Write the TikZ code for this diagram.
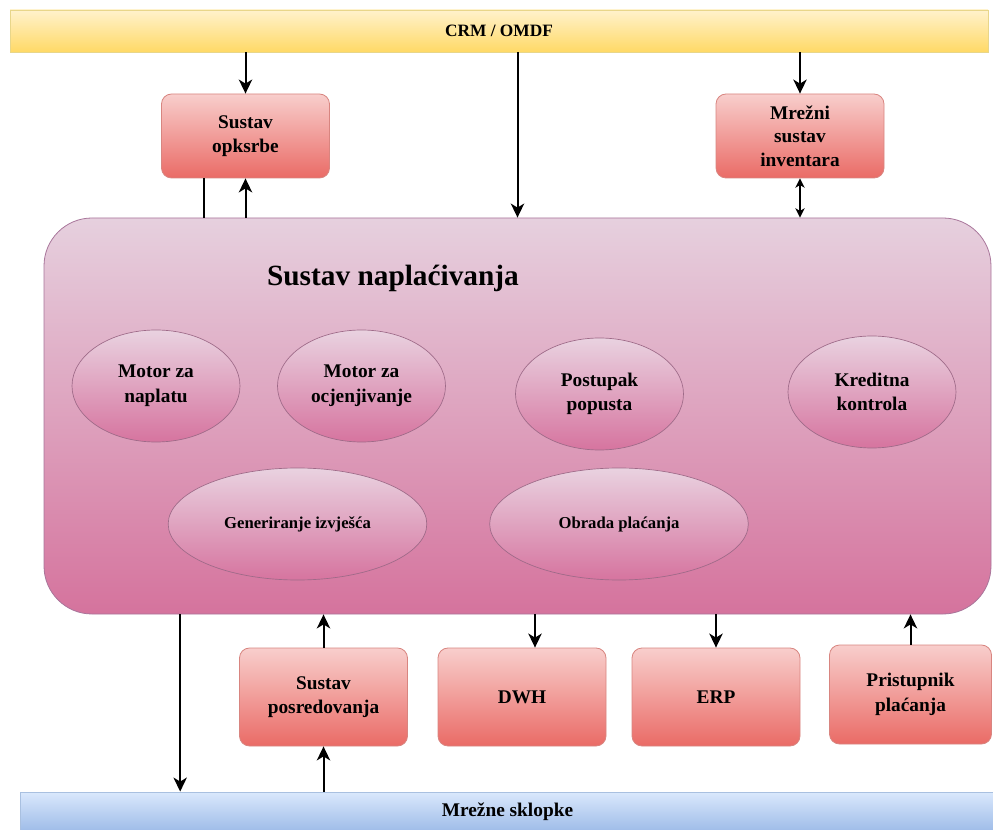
\documentclass[tikz,border=0pt]{standalone}
\usepackage{fontspec}
\setmainfont{Liberation Serif}
\usetikzlibrary{arrows.meta,shapes.geometric}
\definecolor{redtop}{HTML}{F8CECC}
\definecolor{redbot}{HTML}{EA6B66}
\definecolor{redline}{HTML}{D88580}
\definecolor{pinktop}{HTML}{E6D0DE}
\definecolor{pinkbot}{HTML}{D5739D}
\definecolor{pinkline}{HTML}{A8759A}
\definecolor{elltop}{HTML}{E9D2E0}
\definecolor{ellbot}{HTML}{D6749F}
\definecolor{elline}{HTML}{9E6A88}
\definecolor{yeltop}{HTML}{FFF2CC}
\definecolor{yelbot}{HTML}{FFD966}
\definecolor{yelline}{HTML}{E8D68A}
\definecolor{bluetop}{HTML}{DAE8FC}
\definecolor{bluebot}{HTML}{9DBBE8}
\definecolor{blueline}{HTML}{A9C0E0}
\begin{document}
\begin{tikzpicture}[x=0.75pt,y=-0.75pt,
  boxfont/.style={font=\bfseries\fontsize{14.5}{18.5}\selectfont},
  redbox/.style={rectangle, rounded corners=7.5pt, draw=redline, line width=0.6pt,
    top color=redtop, bottom color=redbot, align=center, boxfont, text=black,
    minimum width=126pt, minimum height=73.5pt, inner sep=2pt},
  pinkell/.style={ellipse, draw=elline, line width=0.5pt, top color=elltop, bottom color=ellbot,
    minimum width=126pt, minimum height=84pt, align=center, boxfont, text=black, inner sep=0pt},
  bar/.style={rectangle, line width=0.6pt, align=center, text=black},
  arr/.style={line width=1.5pt, -{Stealth[length=10.5pt,width=10pt,inset=3pt]}},
  plain/.style={line width=1.5pt},
  dbl/.style={line width=1pt, {Stealth[length=7pt,width=7pt,inset=2pt]}-{Stealth[length=7pt,width=7pt,inset=2pt]}}
]
\useasboundingbox (0,0) rectangle (993,830);

% bars
\node[bar, draw=yelline, top color=yeltop, bottom color=yelbot,
  minimum width=733.5pt, minimum height=31.5pt,
  font=\bfseries\fontsize{13}{15}\selectfont] (crm) at (499,31) {CRM / OMDF};
\node[bar, draw=blueline, top color=bluetop, bottom color=bluebot,
  minimum width=731pt, minimum height=30pt,
  font=\bfseries\fontsize{14.5}{17}\selectfont] (mrez) at (507.5,812) {Mrežne sklopke};

% top boxes
\node[redbox, minimum height=63pt] (opk) at (245.5,136) {Sustav\\opksrbe};
\node[redbox, minimum height=63pt, font=\bfseries\fontsize{14.5}{17.6}\selectfont] (inv) at (800,136) {Mrežni\\sustav\\inventara};

% billing system
\node[rectangle, rounded corners=36pt, draw=pinkline, line width=0.6pt,
  top color=pinktop, bottom color=pinkbot,
  minimum width=710.25pt, minimum height=297pt] (bill) at (517.5,416) {};
\node[font=\bfseries\fontsize{22}{26}\selectfont, text=black] (title) at (393,278) {Sustav naplaćivanja};

\node[pinkell] (e1) at (156,386) {Motor za\\naplatu};
\node[pinkell] (e2) at (361.5,386) {Motor za\\ocjenjivanje};
\node[pinkell] (e3) at (599.5,394) {Postupak\\popusta};
\node[pinkell] (e4) at (872,392) {Kreditna\\kontrola};
\node[pinkell, minimum width=194pt, font=\bfseries\fontsize{12.5}{15}\selectfont] (e5) at (297.5,524) {Generiranje izvješća};
\node[pinkell, minimum width=194pt, font=\bfseries\fontsize{12.5}{15}\selectfont] (e6) at (619,524) {Obrada plaćanja};

% bottom boxes
\node[redbox] (posr) at (323.5,697) {Sustav\\posredovanja};
\node[redbox] (dwh) at (522,697) {DWH};
\node[redbox] (erp) at (716,697) {ERP};
\node[redbox, minimum width=121.5pt, minimum height=74.25pt] (pay) at (910.5,694.5) {Pristupnik\\plaćanja};

% connectors top
\draw[arr] (crm.south -| opk.north) -- (opk.north);
\draw[arr] (crm.south -| bill.north) -- (bill.north);
\draw[arr] (crm.south -| inv.north) -- (inv.north);
\coordinate (opkL) at ([xshift=-31pt]opk.south);
\draw[plain] (opkL) -- (opkL |- bill.north);
\draw[arr] (bill.north -| opk.south) -- (opk.south);
\draw[dbl] (inv.south) -- (inv.south |- bill.north);

% connectors bottom
\coordinate (billL) at ([xshift=-253pt]bill.south);
\draw[arr] (billL) -- (billL |- mrez.north);
\draw[arr] (posr.north) -- (posr.north |- bill.south);
\draw[arr] (mrez.north -| posr.south) -- (posr.south);
\coordinate (dwhT) at ([xshift=9.75pt]dwh.north);
\draw[arr] (dwhT |- bill.south) -- (dwhT);
\draw[arr] (erp.north |- bill.south) -- (erp.north);
\draw[arr] (pay.north) -- (pay.north |- bill.south);
\end{tikzpicture}
\end{document}
